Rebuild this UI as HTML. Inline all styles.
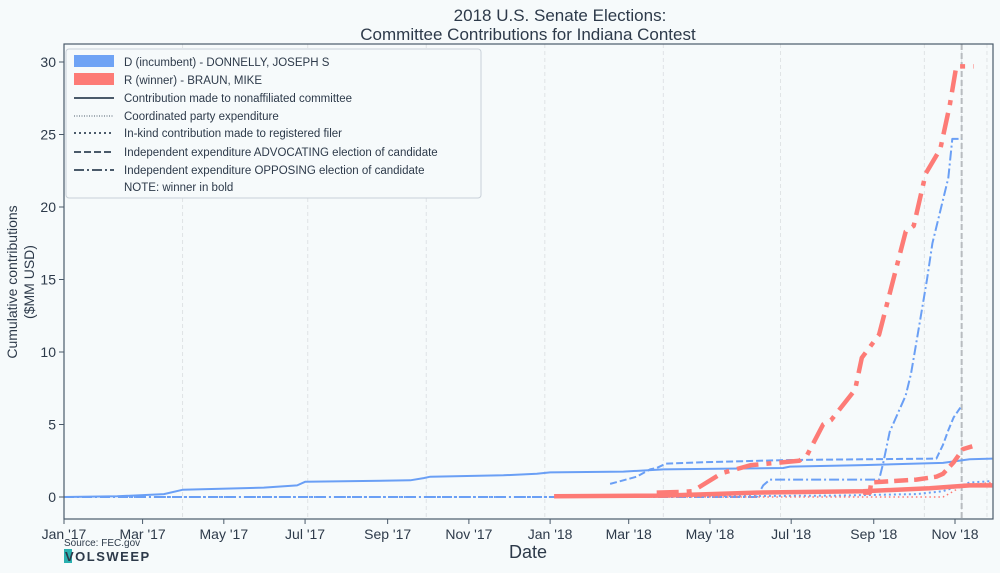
<!DOCTYPE html>
<html><head><meta charset="utf-8"><style>
body{margin:0;background:#f6fafb;font-family:"Liberation Sans",sans-serif;}
svg text{font-family:"Liberation Sans",sans-serif;fill:#2d3a4a;}
</style></head><body>
<svg id="chart" width="1000" height="568" viewBox="0 0 1000 568" xmlns="http://www.w3.org/2000/svg">
<rect width="1000" height="568" fill="#f6fafb"/>
<text x="560" y="21" text-anchor="middle" font-size="17">2018 U.S. Senate Elections:</text>
<text x="528" y="40" text-anchor="middle" font-size="17">Committee Contributions for Indiana Contest</text>
<g id="grid"></g>
<g id="series"></g>
<rect x="64" y="44" width="929" height="475" fill="none" stroke="#4a5a6a" stroke-width="1.2"/>
<g id="axes"></g>
<text x="528" y="558" text-anchor="middle" font-size="18">Date</text>
<text transform="translate(17,282) rotate(-90)" text-anchor="middle" font-size="14"><tspan x="0" dy="0">Cumulative contributions</tspan><tspan x="0" dy="17">($MM USD)</tspan></text>
<text x="64" y="546" font-size="10">Source: FEC.gov</text>
<g><rect x="64" y="549" width="8" height="14" fill="#2ab0b0"/><text x="65" y="561" font-size="13" font-weight="bold" letter-spacing="1.5" font-family="Liberation Mono">VOLSWEEP</text></g>
<g id="legend">
<rect x="66" y="49" width="415" height="149" rx="3" fill="#f6fafb" stroke="#c8d0d8"/>
<rect x="74" y="55" width="40" height="12" fill="#6fa3f5"/>
<text x="124" y="66" font-size="11.5">D (incumbent) - DONNELLY, JOSEPH S</text>
<rect x="74" y="73" width="40" height="12" fill="#fd7b76"/>
<text x="124" y="84" font-size="11.5">R (winner) - BRAUN, MIKE</text>
<line x1="74" y1="98" x2="114" y2="98" stroke="#4a5a6a" stroke-width="2"/>
<text x="124" y="102" font-size="11.5">Contribution made to nonaffiliated committee</text>
<line x1="74" y1="116" x2="114" y2="116" stroke="#4a5a6a" stroke-width="1" stroke-dasharray="1,1.5"/>
<text x="124" y="120" font-size="11.5">Coordinated party expenditure</text>
<line x1="74" y1="133" x2="114" y2="133" stroke="#4a5a6a" stroke-width="2" stroke-dasharray="2,3"/>
<text x="124" y="137" font-size="11.5">In-kind contribution made to registered filer</text>
<line x1="74" y1="152" x2="114" y2="152" stroke="#4a5a6a" stroke-width="2" stroke-dasharray="7,3"/>
<text x="124" y="156" font-size="11.5">Independent expenditure ADVOCATING election of candidate</text>
<line x1="74" y1="170" x2="114" y2="170" stroke="#4a5a6a" stroke-width="2" stroke-dasharray="10,3,2,3"/>
<text x="124" y="174" font-size="11.5">Independent expenditure OPPOSING election of candidate</text>
<text x="124" y="191" font-size="11.5">NOTE: winner in bold</text>
</g>
</svg>
<script>
// days since Jan 1 2017
const xTickLabels=["Jan '17","Mar '17","May '17","Jul '17","Sep '17","Nov '17","Jan '18","Mar '18","May '18","Jul '18","Sep '18","Nov '18"];
const xTickDays=[0,59,120,181,243,304,365,424,485,546,608,669];
const yTicks=[0,5,10,15,20,25,30];
const gridDays=[89,183,272,361,450,538,646,674,693];
const electionDay=674;
const dSolidDays=[0,40,75,89,150,175,181,260,270,275,330,355,365,420,450,540,545,600,660,680,697];
const dSolidVals=[0,0.05,0.2,0.5,0.65,0.8,1.05,1.15,1.3,1.4,1.5,1.6,1.7,1.75,1.9,2.0,2.1,2.2,2.35,2.6,2.65];
const dAdvDays=[410,430,440,445,452,480,545,655,660,664,668,674];
const dAdvVals=[0.9,1.4,1.9,2.0,2.3,2.4,2.55,2.65,3.6,4.6,5.5,6.3];
const dOppDays=[0,360,520,525,530,612,615,620,632,636,641,648,652,660,664,667,674];
const dOppVals=[0,0,0,0.8,1.2,1.2,2.3,4.5,7.0,8.5,11.2,15.0,17.5,20.5,22,24.7,24.7];
const dDotDays=[45,365,580,640,660,680,697];
const dDotVals=[0,0,0.1,0.2,0.4,1.0,1.1];
const rSolidDays=[368,450,520,600,650,680,697];
const rSolidVals=[0.05,0.1,0.3,0.4,0.6,0.8,0.8];
const rAdvDays=[600,605,606,640,655,660,668,675,682];
const rAdvVals=[0.3,0.3,1.0,1.2,1.4,1.6,2.4,3.3,3.5];
const rOppDays=[445,465,472,494,516,552,558,570,576,594,599,612,632,638,647,658,665,670,683];
const rOppVals=[0.3,0.35,0.4,1.65,2.2,2.5,2.9,5.0,5.3,7.4,9.6,11.2,18.3,18.7,22.3,24,27,29.7,29.7];
const rDotDays=[420,660,668,675,697];
const rDotVals=[0,0,0.4,0.8,1.0];

const X=d=>64+d*891/669, Y=v=>497-v*14.5;
const NS="http://www.w3.org/2000/svg";
function mk(t,a,p){const e=document.createElementNS(NS,t);for(const k in a)e.setAttribute(k,a[k]);p.appendChild(e);return e;}
const grid=document.getElementById('grid'),axes=document.getElementById('axes'),series=document.getElementById('series');
gridDays.forEach(d=>{const l=mk('line',{x1:X(d),x2:X(d),y1:44,y2:519,stroke:'#dfe3e6','stroke-dasharray':'4,3'},grid);

});
const el=mk('line',{x1:X(electionDay),x2:X(electionDay),y1:44,y2:519,stroke:'#b8bcc0','stroke-width':2,'stroke-dasharray':'6,3'},grid);


xTickDays.forEach((d,i)=>{mk('line',{x1:X(d),x2:X(d),y1:519,y2:524,stroke:'#4a5a6a'},axes);
const t=mk('text',{x:X(d),y:539,'text-anchor':'middle','font-size':14},axes);t.textContent=xTickLabels[i];

});
yTicks.forEach(v=>{mk('line',{x1:59,x2:64,y1:Y(v),y2:Y(v),stroke:'#4a5a6a'},axes);
const t=mk('text',{x:56,y:Y(v)+5,'text-anchor':'end','font-size':14},axes);t.textContent=v;

});
function line(days,vals,color,w,dash,name){
const pts=days.map((d,i)=>X(d).toFixed(1)+','+Y(vals[i]).toFixed(1)).join(' ');
const p=mk('polyline',{points:pts,fill:'none',stroke:color,'stroke-width':w,'stroke-dasharray':dash,'stroke-linejoin':'round'},series);

}
const B='#6a9ff5',R='#fd7b76';
line(dDotDays,dDotVals,B,2,'2,3','d-inkind-line');
line(dOppDays,dOppVals,B,2,'10,3,2,3','d-opposing-line');
line(dAdvDays,dAdvVals,B,2,'7,3','d-advocating-line');
line(dSolidDays,dSolidVals,B,2,'','d-nonaffiliated-line');
line(rDotDays,rDotVals,R,1.5,'1.5,3','r-inkind-line');
line(rSolidDays,rSolidVals,R,4.5,'','r-nonaffiliated-line');
line(rAdvDays,rAdvVals,R,4.5,'14,6','r-advocating-line');
line(rOppDays,rOppVals,R,4.5,'22,8,5,8','r-opposing-line');
</script>
</body></html>
